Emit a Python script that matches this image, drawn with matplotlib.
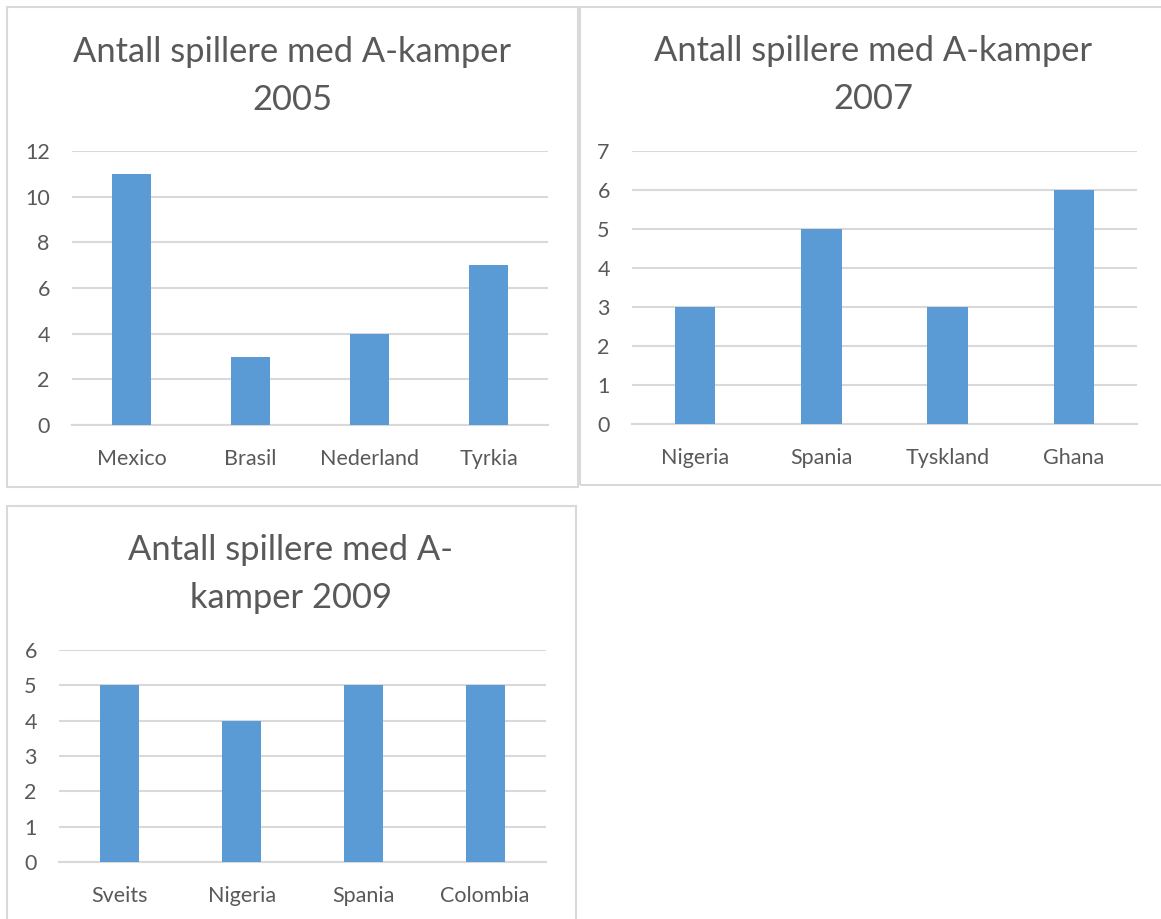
import matplotlib
matplotlib.use("Agg")
import matplotlib.pyplot as plt
from matplotlib.patches import Rectangle

plt.rcParams['font.family'] = ['Lato', 'DejaVu Sans']

W, H = 1161, 919
BAR = '#5B9BD5'
GRID = '#D9D9D9'
TXT = '#595959'

titles = ["Antall spillere med A-kamper\n2005",
          "Antall spillere med A-kamper\n2007",
          "Antall spillere med A-\nkamper 2009"]
cats_2005 = ["Mexico", "Brasil", "Nederland", "Tyrkia"]
vals_2005 = [11, 3, 4, 7]
cats_2007 = ["Nigeria", "Spania", "Tyskland", "Ghana"]
vals_2007 = [3, 5, 3, 6]
cats_2009 = ["Sveits", "Nigeria", "Spania", "Colombia"]
vals_2009 = [5, 4, 5, 5]
yticks_2005 = [0, 2, 4, 6, 8, 10, 12]
yticks_2007 = [0, 1, 2, 3, 4, 5, 6, 7]
yticks_2009 = [0, 1, 2, 3, 4, 5, 6]

fig = plt.figure(figsize=(W / 100, H / 100), dpi=100)
fig.patch.set_facecolor('white')

# panel borders (pixel coords, top-down)
panels = [(7, 7, 578, 487), (580, 7, 1170, 485), (7, 506, 576, 930)]
for (x0, y0, x1, y1) in panels:
    fig.add_artist(Rectangle((x0 / W, 1 - y1 / H), (x1 - x0) / W, (y1 - y0) / H,
                             transform=fig.transFigure, fill=False,
                             edgecolor=GRID, linewidth=1.5))

# plot areas
areas = [(72, 151, 548, 425), (632, 151, 1137, 424), (59, 650, 546, 862)]
title_pos = [(292, 76), (873, 75), (291, 574)]
data = [(cats_2005, vals_2005, yticks_2005),
        (cats_2007, vals_2007, yticks_2007),
        (cats_2009, vals_2009, yticks_2009)]

for (x0, y0, x1, y1), (cats, vals, yt), title, (tx, ty) in zip(areas, data, titles, title_pos):
    ax = fig.add_axes([x0 / W, 1 - y1 / H, (x1 - x0) / W, (y1 - y0) / H])
    ax.bar(range(len(cats)), vals, width=0.32, color=BAR, zorder=3)
    ax.set_xlim(-0.5, len(cats) - 0.5)
    ax.set_ylim(yt[0], yt[-1])
    ax.set_yticks(yt)
    ax.set_xticks(range(len(cats)))
    ax.set_xticklabels(cats)
    ax.yaxis.grid(True, color=GRID, linewidth=1.5, zorder=0)
    ax.set_axisbelow(True)
    for s in ['top', 'right', 'left']:
        ax.spines[s].set_visible(False)
    ax.spines['bottom'].set_color(GRID)
    ax.spines['bottom'].set_linewidth(1.5)
    ax.tick_params(axis='y', length=0, pad=16, labelsize=15.5, labelcolor=TXT)
    ax.tick_params(axis='x', length=0, pad=17, labelsize=15.5, labelcolor=TXT)
    ax.set_facecolor('none')
    fig.text(tx / W, 1 - ty / H, title, ha='center', va='center',
             fontsize=24.8, color=TXT, linespacing=1.62)

fig.savefig('out.png', dpi=100, facecolor='white')
